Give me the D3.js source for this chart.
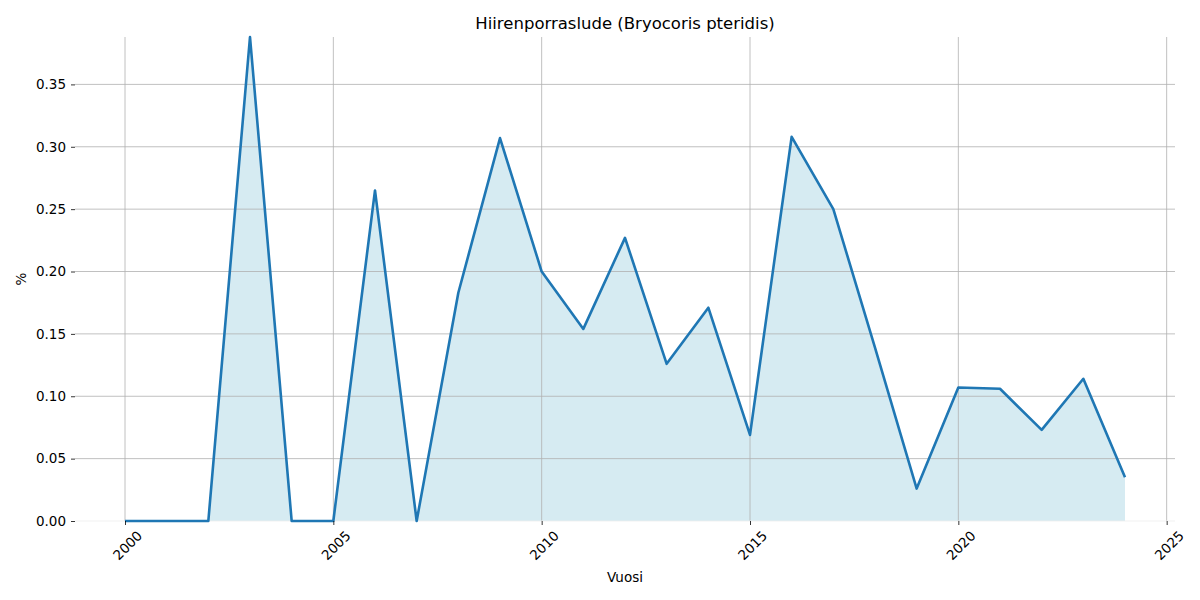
<!DOCTYPE html>
<html>
<head>
<meta charset="utf-8">
<script src="https://cdn.jsdelivr.net/npm/d3@7"></script>
<style>
body { margin: 0; background: #fff; }
text { font-family: "DejaVu Sans", sans-serif; fill: #000; }
</style>
</head>
<body>
<svg id="chart" width="1200" height="600"></svg>
<script>
// data
var years = d3.range(2000, 2025);
var values = [0, 0, 0, 0.388, 0, 0, 0.265, 0, 0.183, 0.307,
              0.200, 0.154, 0.227, 0.126, 0.171, 0.069, 0.308, 0.250,
              0.139, 0.026, 0.107, 0.106, 0.073, 0.114, 0.035];
var xTicks = [2000, 2005, 2010, 2015, 2020, 2025];
var yTicks = [0, 0.05, 0.10, 0.15, 0.20, 0.25, 0.30, 0.35];

var points = years.map(function(y, i) { return { year: y, v: values[i] }; });

var m = { left: 75, right: 25, top: 37, bottom: 79 };
var W = 1200, H = 600;
var svg = d3.select("#chart");

var x = d3.scaleLinear().domain([1998.8, 2025.2]).range([m.left, W - m.right]);
var y = d3.scaleLinear().domain([0, d3.max(values)]).range([H - m.bottom, m.top]);

// area first, grid drawn over it, then the line
svg.append("path").datum(points)
  .attr("d", d3.area().x(d => x(d.year)).y0(y(0)).y1(d => y(d.v)))
  .attr("fill", "lightblue").attr("fill-opacity", 0.5);

var g = svg.append("g");
g.selectAll("line.gx").data(xTicks).enter().append("line")
  .attr("x1", d => x(d)).attr("x2", d => x(d))
  .attr("y1", m.top).attr("y2", H - m.bottom)
  .attr("stroke", "#b0b0b0").attr("stroke-width", 0.8);
g.selectAll("line.gy").data(yTicks).enter().append("line")
  .attr("x1", m.left).attr("x2", W - m.right)
  .attr("y1", d => y(d)).attr("y2", d => y(d))
  .attr("stroke", d => d === 0 ? "#eeeeee" : "#b0b0b0").attr("stroke-width", 0.8);

svg.append("path").datum(points)
  .attr("d", d3.line().x(d => x(d.year)).y(d => y(d.v)))
  .attr("fill", "none").attr("stroke", "#1f77b4").attr("stroke-width", 2.6)
  .attr("stroke-linejoin", "round");

// axes
var xAxis = svg.append("g").attr("transform", "translate(0," + (H - m.bottom) + ")")
  .call(d3.axisBottom(x).tickValues(xTicks).tickFormat(d3.format("d")).tickSize(4).tickPadding(3));
xAxis.select(".domain").remove();
xAxis.selectAll("text")
  .style("font-size", "13.5px")
  .attr("text-anchor", "end")
  .attr("transform", "translate(6,4) rotate(-45)")
  .attr("dy", "0.7em");

var yAxis = svg.append("g").attr("transform", "translate(" + m.left + ",0)")
  .call(d3.axisLeft(y).tickValues(yTicks).tickFormat(d3.format(".2f")).tickSize(4).tickPadding(5));
yAxis.select(".domain").remove();
yAxis.selectAll("text").style("font-size", "13.5px");
svg.selectAll(".tick line").attr("stroke", "#000").attr("stroke-width", 0.8);

// labels
svg.append("text").attr("x", (m.left + W - m.right) / 2).attr("y", 29)
  .attr("text-anchor", "middle").style("font-size", "16.5px")
  .text("Hiirenporraslude (Bryocoris pteridis)");
svg.append("text").attr("x", (m.left + W - m.right) / 2).attr("y", 582)
  .attr("text-anchor", "middle").style("font-size", "13.5px").text("Vuosi");
svg.append("text").attr("transform", "translate(26," + ((m.top + H - m.bottom) / 2) + ") rotate(-90)")
  .attr("text-anchor", "middle").style("font-size", "13.5px").text("%");
</script>
</body>
</html>
